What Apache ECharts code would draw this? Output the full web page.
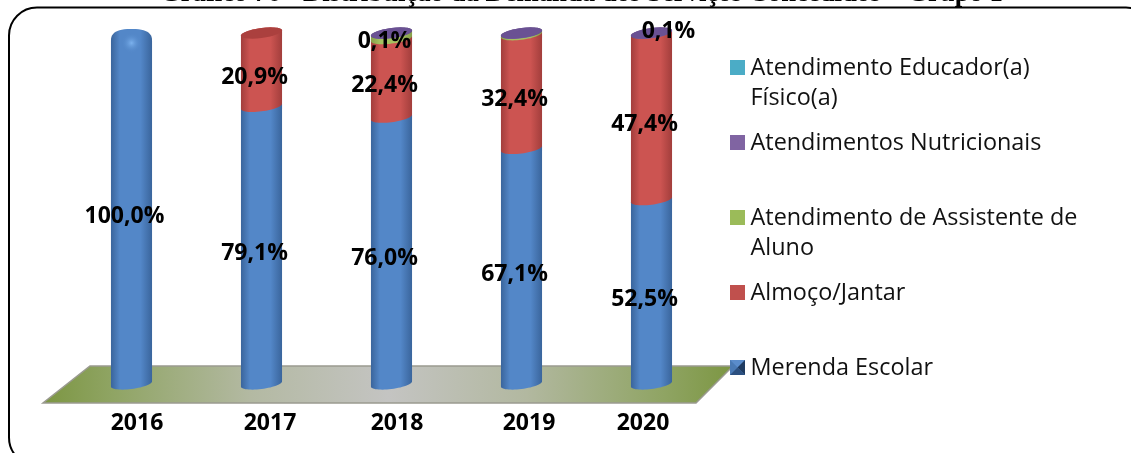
<!DOCTYPE html>
<html><head><meta charset="utf-8">
<style>html,body{margin:0;padding:0;background:#fff}#c{width:1131px;height:453px;overflow:hidden}</style>
<script src="https://cdn.jsdelivr.net/npm/echarts@6/dist/echarts.min.js"></script>
</head><body><div id="c"></div>
<script>
const categories = ['2016','2017','2018','2019','2020'];
const merenda    = [100.0, 79.1, 76.0, 67.1, 52.5];
const almoco     = [0, 20.9, 22.4, 32.4, 47.4];
const assistente = [0, 0, 1.5, 0.4, 0];
const nutricao   = [0, 0, 0.1, 0.1, 0.1];
const educador   = [0, 0, 0, 0, 0];
const labelYears = { merenda:['2016','2017','2018','2019','2020'], almoco:['2017','2018','2019','2020'], assistente:[], nutricao:['2018','2020'], educador:[] };
const seriesNames = ['Merenda Escolar','Almoço/Jantar','Atendimento de Assistente de Aluno','Atendimentos Nutricionais','Atendimento Educador(a) Físico(a)'];
const seriesValues = [merenda, almoco, assistente, nutricao, educador];
const seriesKeys = ['merenda','almoco','assistente','nutricao','educador'];
const legendWrapped = {'Atendimento Educador(a) Físico(a)':'Atendimento Educador(a)\nFísico(a)','Atendimentos Nutricionais':'Atendimentos Nutricionais\n ','Atendimento de Assistente de Aluno':'Atendimento de Assistente de\nAluno','Almoço/Jantar':'Almoço/Jantar\n ','Merenda Escolar':'Merenda Escolar\n '};
const titleText = 'Gráfico 76 - Distribuição da Demanda dos Serviços Concedidos – Grupo 1';

const palette = [
  {edge:'#3a659c',mid:'#5387c8',cap:'#4a7bb8',flat:'#4F81BD'},
  {edge:'#a23e3c',mid:'#cc5451',cap:'#ab403e',flat:'#C0504D'},
  {edge:'#86a04a',mid:'#a4c260',cap:'#9bbb59',flat:'#9BBB59'},
  {edge:'#5f4a80',mid:'#7a5fa0',cap:'#6a5193',flat:'#8064A2'},
  {edge:'#3a8ea6',mid:'#4bacc6',cap:'#4bacc6',flat:'#4BACC6'}
];
const labelFont = '"Open Sans"';
const RY = 5, TILT = 2.6;
function ell(cx,cy,rx,t){ return [cx+rx*Math.cos(t), cy+RY*Math.sin(t)-TILT*Math.cos(t)]; }
function arc(cx,cy,rx,from,to){ const p=[]; for(let i=0;i<=28;i++){p.push(ell(cx,cy,rx,from+(to-from)*i/28));} return p; }
function grad(c){ return new echarts.graphic.LinearGradient(0,0,1,0,[{offset:0,color:c.edge},{offset:.22,color:c.mid},{offset:.72,color:c.mid},{offset:1,color:c.edge}]); }

function makeRender(si){
  return function(params, api){
    const i = api.value(0), v = api.value(1);
    if(!(v>0)) return {type:'group',children:[]};
    let base=0; for(let k=0;k<si;k++) base+=seriesValues[k][i];
    let totalAbove=0; for(let k=si+1;k<seriesValues.length;k++) totalAbove+=seriesValues[k][i];
    const b = api.coord([i,base]), t = api.coord([i,base+v]);
    const cx=b[0], rx=api.size([1,0])[0]*0.158;
    const c=palette[si], children=[];
    const dome = base===0 && v>=100;
    const topY = dome ? t[1]+8 : t[1];
    let pts;
    if(dome){
      pts = arc(cx,b[1],rx,0,Math.PI);
      for(let k=0;k<=24;k++){ const a=Math.PI+Math.PI*k/24; const e=2.6; pts.push([cx+rx*Math.sign(Math.cos(a))*Math.pow(Math.abs(Math.cos(a)),2/e), topY+12*Math.sign(Math.sin(a))*Math.pow(Math.abs(Math.sin(a)),2/e)]); }
    } else {
      pts = arc(cx,b[1],rx,0,Math.PI).concat(arc(cx,topY,rx,Math.PI,2*Math.PI));
    }
    children.push({type:'polygon',shape:{points:pts},style:{fill:grad(c)}});
    if(dome){
      children.push({type:'circle',shape:{cx:cx,cy:t[1]+10,r:10},style:{fill:new echarts.graphic.RadialGradient(.5,.5,.5,[{offset:0,color:'#7cb2ee'},{offset:1,color:'rgba(83,135,200,0)'}])}});
    } else if(totalAbove<=0){
      children.push({type:'polygon',shape:{points:arc(cx,topY,rx,0,2*Math.PI)},style:{fill:c.cap}});
    }
    const year=categories[i];
    if(labelYears[seriesKeys[si]].includes(year)){
      const off = (si===3 && year==='2020') ? [17,-2] : [-7,8];
      children.push({type:'text',z2:50,style:{x:cx+off[0],y:(b[1]+t[1])/2+off[1],text:v.toFixed(1).replace('.',',')+'%',fill:'#000',font:'bold 23px '+labelFont,align:'center',verticalAlign:'middle'}});
    }
    return {type:'group',children:children};
  };
}

const series = seriesNames.map((n,si)=>({
  name:n,type:'custom',coordinateSystem:'cartesian2d',z:2+si,clip:false,
  itemStyle:{color:palette[si].flat},
  encode:{x:0,y:1},
  data:categories.map((c,i)=>[i,seriesValues[si][i]]),
  renderItem:makeRender(si)
}));

const iconPath='path://M0 6.5H15V21.5H0Z M0 0L0.01 0L0 0Z M0 60L0.01 60L0 60Z';
const legendOrder=seriesNames.slice().reverse();
const labelShift=[5.5,8.5,5.5,7.5,-8.5];
const rich={};
labelShift.forEach((s,i)=>{ rich['s'+i]={fontFamily:labelFont,fontWeight:'bold',fontSize:23,color:'#000',padding:s>0?[0,0,0,2*s]:[0,-2*s,0,0]}; });

const chart=echarts.init(document.getElementById('c'),null,{renderer:'canvas'});
chart.setOption({
  animation:false,backgroundColor:'#fff',
  title:{text:titleText,left:160,top:-19,padding:0,textStyle:{fontFamily:'"Liberation Serif"',fontWeight:'bold',fontSize:26.7,color:'#000'}},
  grid:{left:66.5,width:650,top:33,height:351,containLabel:false},
  xAxis:{type:'category',data:categories,axisLine:{show:false},axisTick:{show:false},
    axisLabel:{interval:0,margin:28,formatter:(v)=>'{s'+categories.indexOf(v)+'|'+v+'}',rich:rich}},
  yAxis:{type:'value',min:0,max:100,show:false},
  legend:{orient:'vertical',left:730,top:53.5,padding:0,itemGap:15,itemWidth:16,itemHeight:60,
    icon:iconPath,selectedMode:false,
    formatter:(n)=>legendWrapped[n],
    textStyle:{fontFamily:'"Open Sans"',fontSize:23.4,lineHeight:30,color:'#111'},
    data:legendOrder},
  graphic:[
    {type:'rect',z:0,shape:{x:9,y:7.5,width:1145,height:458,r:28},style:{fill:'#fff',stroke:'#000',lineWidth:2}},
    {type:'polygon',z:1,shape:{points:[[90,366],[733,366],[696,403],[43,403]]},
      style:{fill:new echarts.graphic.LinearGradient(0,0,1,0,[{offset:0,color:'#7c9642'},{offset:.1,color:'#8fa463'},{offset:.3,color:'#b3b9a2'},{offset:.5,color:'#c4c4c2'},{offset:.7,color:'#b2b8a0'},{offset:.9,color:'#8fa463'},{offset:1,color:'#7c9642'}]),stroke:'#9a9a90',lineWidth:1.5}},
    {type:'polygon',z:20,shape:{points:[[730,360],[745,360],[737.5,367.5]]},style:{fill:'#5a8ccb'}},
    {type:'polygon',z:20,shape:{points:[[730,360],[730,375],[737.5,367.5]]},style:{fill:'#4a7ab5'}},
    {type:'polygon',z:20,shape:{points:[[745,360],[745,375],[737.5,367.5]]},style:{fill:'#1f3b60'}},
    {type:'polygon',z:20,shape:{points:[[730,375],[745,375],[737.5,367.5]]},style:{fill:'#2c5080'}}
  ],
  series:series
});
</script></body></html>
